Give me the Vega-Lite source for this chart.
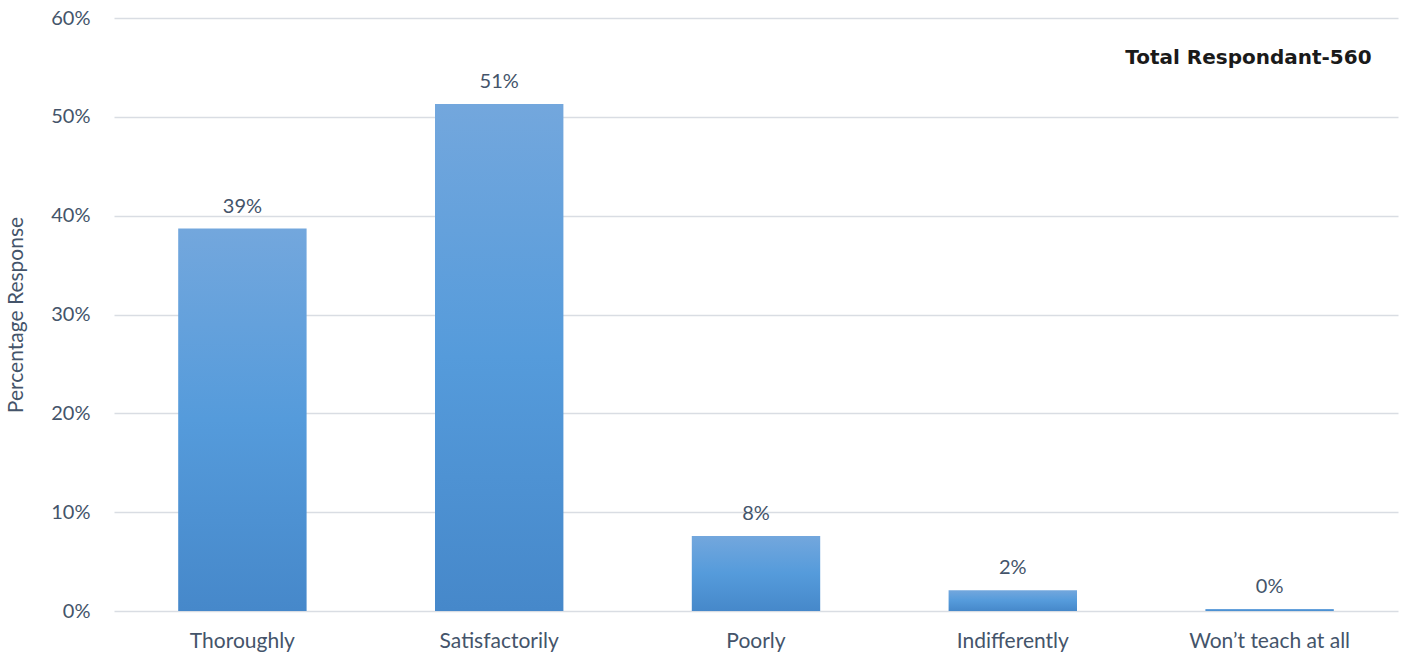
{
  "$schema": "https://vega.github.io/schema/vega-lite/v6.json",
  "width": 1411,
  "height": 658,
  "autosize": {"type": "fit", "contains": "padding"},
  "padding": {"left": 5, "top": 8, "right": 13, "bottom": 7},
  "background": "white",
  "config": {
    "view": {"stroke": null},
    "font": "Lato",
    "axis": {"labelFont": "Lato", "titleFont": "Lato"}
  },
  "data": {
    "values": [
      {"response": "Thoroughly", "pct": 0.387},
      {"response": "Satisfactorily", "pct": 0.513},
      {"response": "Poorly", "pct": 0.076},
      {"response": "Indifferently", "pct": 0.021},
      {"response": "Won\u2019t teach at all", "pct": 0.002}
    ]
  },
  "encoding": {
    "x": {
      "field": "response",
      "type": "nominal",
      "sort": null,
      "scale": {"paddingInner": 0.5, "paddingOuter": 0.25},
      "axis": {
        "title": null,
        "labelAngle": 0,
        "labelFontSize": 21,
        "labelColor": "#44546A",
        "labelPadding": 19,
        "ticks": false,
        "domain": false
      }
    },
    "y": {
      "field": "pct",
      "type": "quantitative",
      "scale": {"domain": [0, 0.6]},
      "axis": {
        "title": "Percentage Response",
        "titleFontSize": 21,
        "titleFontWeight": "normal",
        "titleColor": "#44546A",
        "titlePadding": 24,
        "format": ".0%",
        "values": [0, 0.1, 0.2, 0.3, 0.4, 0.5, 0.6],
        "labelOverlap": false,
        "labelFontSize": 20,
        "labelColor": "#44546A",
        "labelPadding": 24,
        "ticks": false,
        "domain": false,
        "grid": true,
        "gridColor": "#D9DDE3",
        "gridWidth": 1.5
      }
    }
  },
  "layer": [
    {
      "mark": {
        "type": "bar",
        "color": {
          "gradient": "linear",
          "x1": 0, "y1": 0, "x2": 0, "y2": 1,
          "stops": [
            {"offset": 0, "color": "#73A7DD"},
            {"offset": 0.5, "color": "#559BDB"},
            {"offset": 1, "color": "#4688CA"}
          ]
        }
      }
    },
    {
      "mark": {"type": "text", "baseline": "bottom", "dy": -12, "fontSize": 20, "color": "#44546A"},
      "encoding": {"text": {"field": "pct", "format": ".0%"}}
    },
    {
      "data": {"values": [{"note": "Total Respondant-560", "response": "Won\u2019t teach at all", "pct": 0.56}]},
      "mark": {"type": "text", "align": "right", "baseline": "middle", "dx": 102, "fontSize": 20, "fontWeight": "bold", "font": "DejaVu Sans", "color": "#1a1a1a"},
      "encoding": {"text": {"field": "note"}}
    }
  ]
}
